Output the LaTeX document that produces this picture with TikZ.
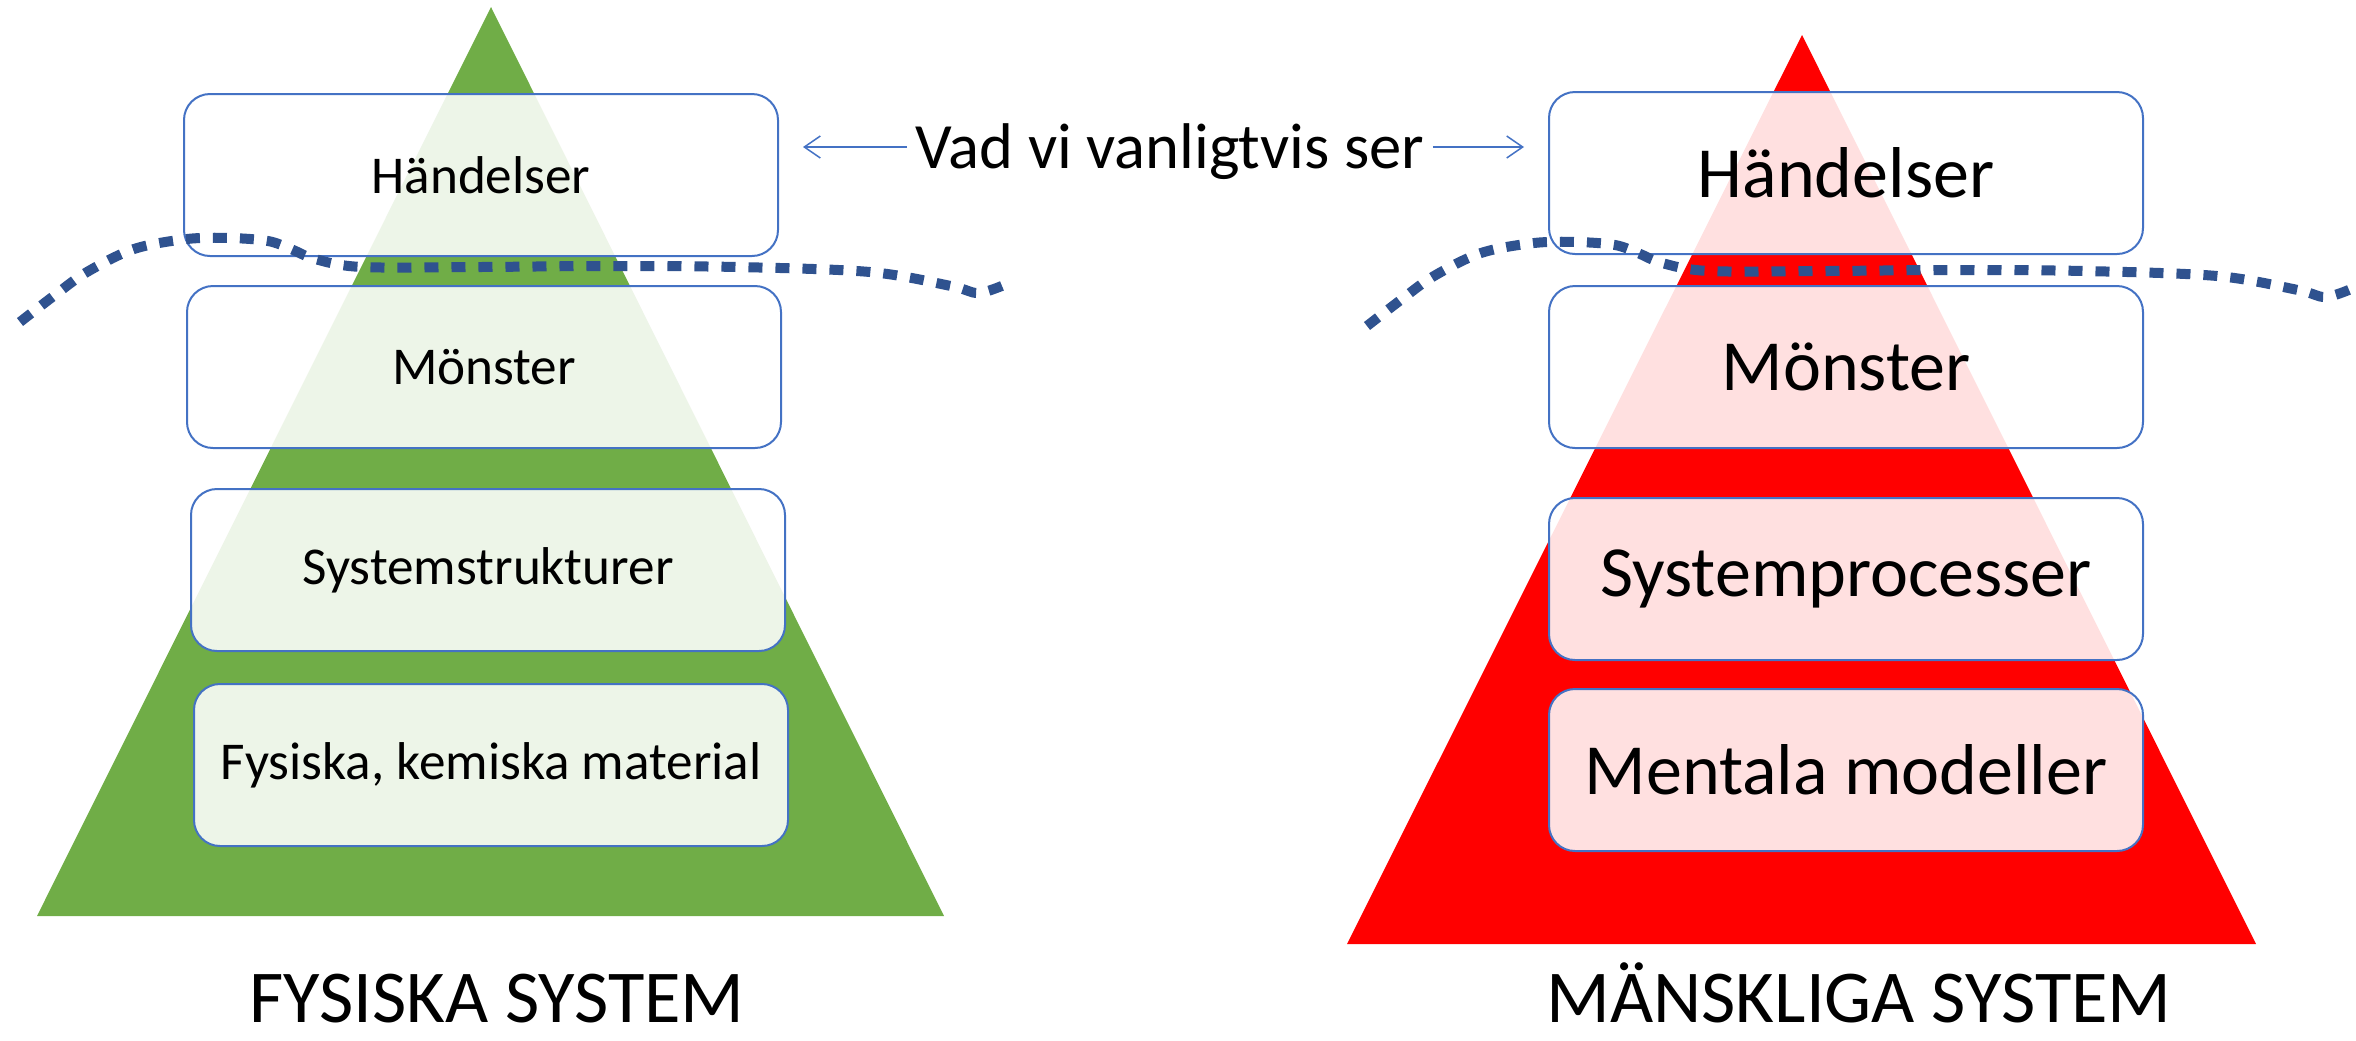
\documentclass[tikz,border=0pt]{standalone}
\usepackage{fontspec}
\setmainfont{Carlito}
\usetikzlibrary{arrows.meta}
\definecolor{physgreen}{HTML}{70AD47}
\definecolor{humanred}{HTML}{FF0000}
\definecolor{boxblue}{HTML}{4472C4}
\definecolor{wavecol}{HTML}{2F528F}
\tikzset{
  layer/.style={draw=boxblue,line width=1pt,rounded corners=13pt,fill=white,fill opacity=0.88,text opacity=1,
    minimum width=297pt,minimum height=81pt,inner sep=0pt},
  smalltext/.style={font=\fontsize{26.6pt}{31pt}\selectfont},
  bigtext/.style={font=\fontsize{36pt}{43pt}\selectfont},
  titletext/.style={font=\fontsize{37.3pt}{44pt}\selectfont,inner sep=0pt,anchor=base},
  wave/.style={wavecol,line width=5pt,dash pattern=on 7pt off 6.5pt}
}
\begin{document}
\begin{tikzpicture}[x=0.5pt,y=-0.5pt,>={Straight Barb[length=8pt,width=11pt]}]
\useasboundingbox (0,0) rectangle (2356,1040);
% pyramids
\fill[physgreen] (491,7) -- (944,916) -- (37,916) -- cycle;
\fill[humanred] (1802,35) -- (2256,944) -- (1347,944) -- cycle;

% physical system
\node[layer,smalltext] (hand1) at (481,175) {Händelser};
\node[layer,smalltext] (monst1) at (484,367) {Mönster};
\node[layer,smalltext] (struk1) at (488,570) {Systemstrukturer};
\node[layer,smalltext] (mat1) at (491,765) {Fysiska, kemiska material};

% human system
\node[layer,bigtext] (hand2) at (1846,173) {Händelser};
\node[layer,bigtext] (monst2) at (1846,367) {Mönster};
\node[layer,bigtext] (proc2) at (1846,579) {Systemprocesser};
\node[layer,bigtext] (ment2) at (1846,770) {Mentala modeller};

% the line between what is seen and what is not
\foreach \dx/\dy in {0/0,1347/4}
  \draw[wave,shift={(\dx,\dy)}] plot[smooth,tension=0.55] coordinates {(20,322) (55,295) (87,272) (134,249) (187,239) (230,238) (268,241) (291,249) (315,259) (362,267) (480,267) (603,266) (737,267) (870,272) (951,286) (978,293) (1004,285)};

\node[font=\fontsize{32.3pt}{38pt}\selectfont,text height=21pt,text depth=0pt,inner xsep=4pt] (see) at (1170,147) {Vad vi vanligtvis ser};
\draw[->,boxblue,line width=0.75pt,shorten >=12pt] (see.west) -- (see.west -| hand1.east);
\draw[->,boxblue,line width=0.75pt,shorten >=12pt] (see.east) -- (see.east -| hand2.west);

\node[titletext] (fys) at (497,1022) {FYSISKA SYSTEM};
\node[titletext] (mans) at (1859,1022) {MÄNSKLIGA SYSTEM};
\end{tikzpicture}
\end{document}
